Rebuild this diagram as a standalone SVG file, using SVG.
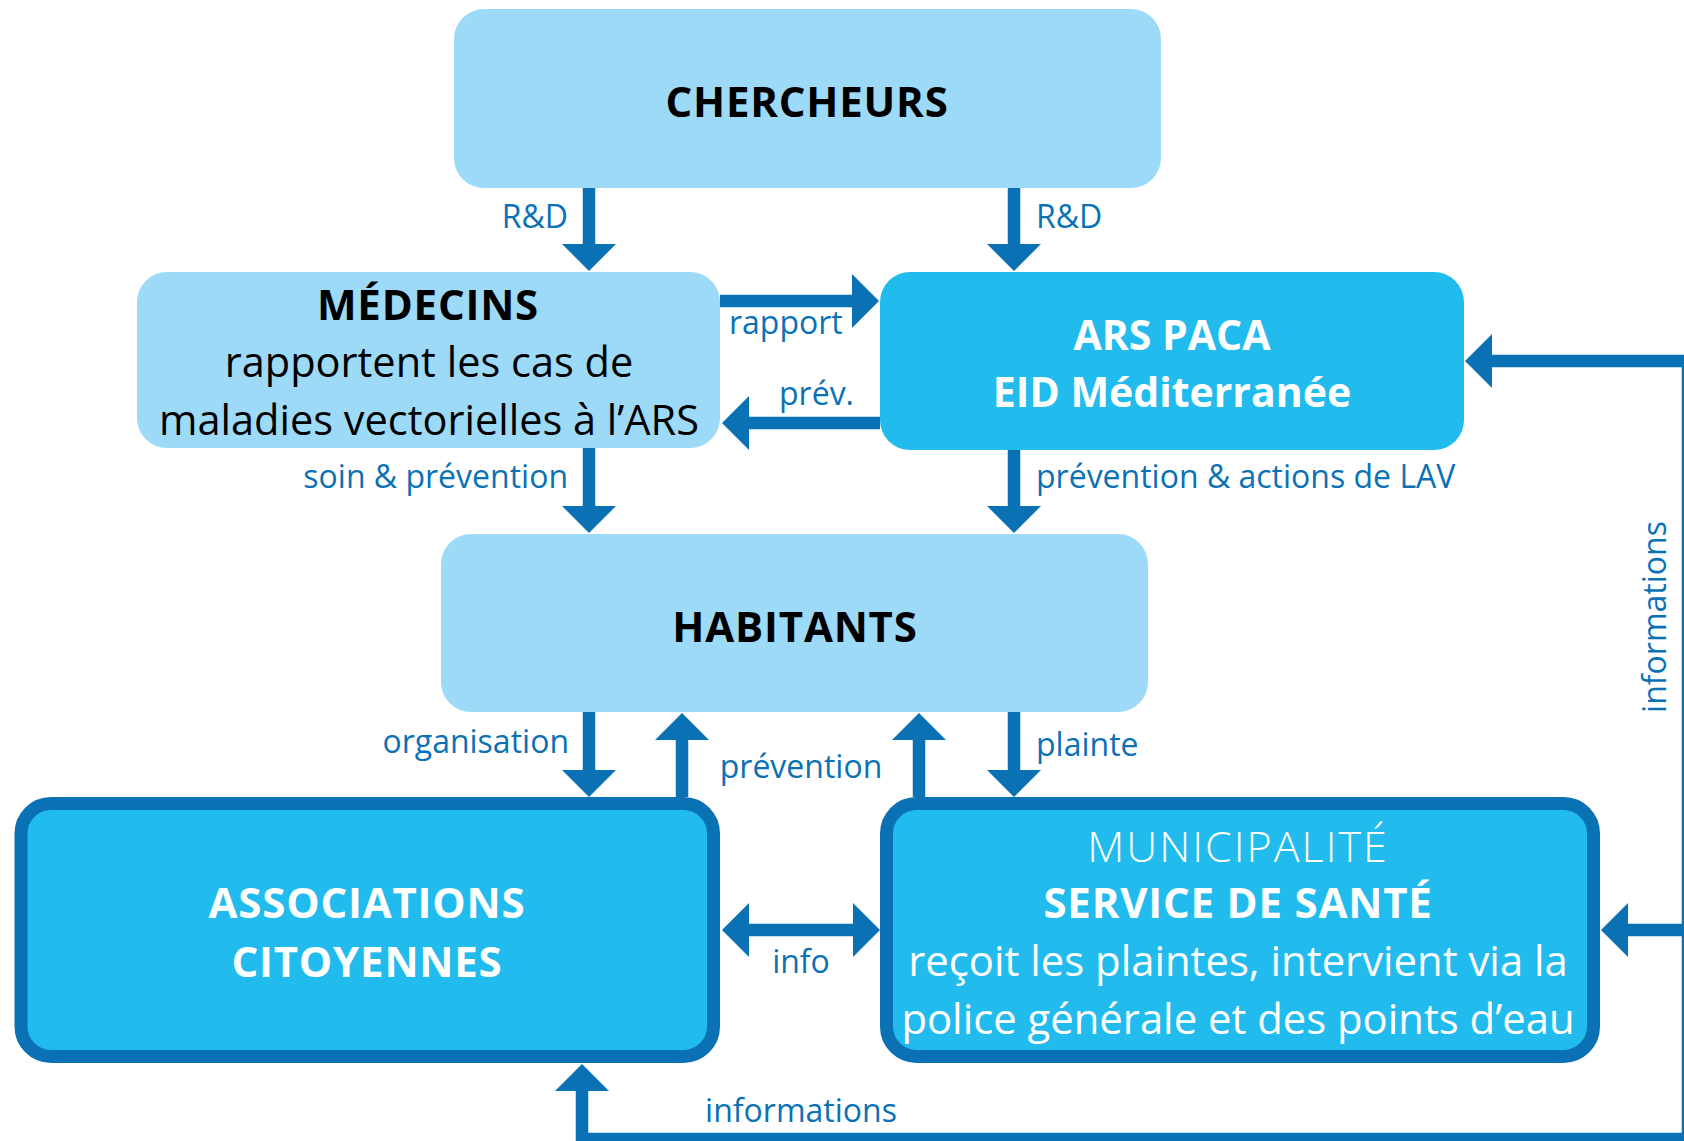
<svg xmlns="http://www.w3.org/2000/svg" width="1684" height="1141" viewBox="0 0 1684 1141">
<style>
.light{fill:#9DDAF7}
.mid{fill:#22BBEE}
.framed{fill:#22BBEE;stroke:#0B71B5;stroke-width:13}
.h{font-family:"Open Sans","Liberation Sans",sans-serif;font-weight:700;font-size:42px;letter-spacing:0.8px;text-anchor:middle}
.b{font-family:"Open Sans","Liberation Sans",sans-serif;font-size:41.5px;text-anchor:middle}
.dark{fill:#000}
.white{fill:#fff}
.lbl{font-family:"Open Sans","Liberation Sans",sans-serif;font-size:32px;fill:#0B71B5}
.c{fill:none;stroke:#0B71B5;stroke-width:12.5;stroke-linejoin:miter}
</style>
<defs>
<marker id="ah" markerUnits="userSpaceOnUse" viewBox="0 0 27 54" markerWidth="27" markerHeight="54" refX="1" refY="27" orient="auto-start-reverse">
<path d="M0,0 L27,27 L0,54 Z" fill="#0B71B5"/>
</marker>
</defs>
<rect width="1684" height="1141" fill="#fff"/>

<g id="connectors">
<line class="c" x1="589" y1="188" x2="589" y2="245" marker-end="url(#ah)"/>
<line class="c" x1="1014" y1="188" x2="1014" y2="245" marker-end="url(#ah)"/>
<line class="c" x1="720" y1="301" x2="853" y2="301" marker-end="url(#ah)"/>
<line class="c" x1="880" y1="423" x2="748" y2="423" marker-end="url(#ah)"/>
<line class="c" x1="589" y1="448" x2="589" y2="507" marker-end="url(#ah)"/>
<line class="c" x1="1014" y1="450" x2="1014" y2="507" marker-end="url(#ah)"/>
<line class="c" x1="589" y1="712" x2="589" y2="771" marker-end="url(#ah)"/>
<line class="c" x1="682" y1="797" x2="682" y2="739" marker-end="url(#ah)"/>
<line class="c" x1="919" y1="797" x2="919" y2="739" marker-end="url(#ah)"/>
<line class="c" x1="1014" y1="712" x2="1014" y2="771" marker-end="url(#ah)"/>
<line class="c" x1="748" y1="930" x2="854" y2="930" marker-start="url(#ah)" marker-end="url(#ah)"/>
<path class="c" d="M582,1090 L582,1139 L1688,1139 L1688,361 L1491,361" marker-start="url(#ah)" marker-end="url(#ah)"/>
<line class="c" x1="1688" y1="930" x2="1627" y2="930" marker-end="url(#ah)"/>
<text class="lbl" x="568" y="228" text-anchor="end">R&amp;D</text>
<text class="lbl" x="1036" y="228">R&amp;D</text>
<text class="lbl" x="729" y="334">rapport</text>
<text class="lbl" x="779" y="405">prév.</text>
<text class="lbl" x="568" y="488" text-anchor="end">soin &amp; prévention</text>
<text class="lbl" x="1036" y="488">prévention &amp; actions de LAV</text>
<text class="lbl" x="569" y="753" text-anchor="end">organisation</text>
<text class="lbl" x="801" y="778" text-anchor="middle">prévention</text>
<text class="lbl" x="1036" y="756">plainte</text>
<text class="lbl" x="801" y="973" text-anchor="middle">info</text>
<text class="lbl" x="801" y="1122" text-anchor="middle">informations</text>
<text class="lbl" text-anchor="middle" transform="translate(1666,617) rotate(-90)">informations</text>
</g>

<g id="chercheurs">
<rect class="light" x="454" y="9" width="707" height="179" rx="30"/>
<text class="h dark" x="807" y="117">CHERCHEURS</text>
</g>

<g id="medecins">
<rect class="light" x="137" y="272" width="583" height="176" rx="30"/>
<text class="h dark" x="428" y="320">MÉDECINS</text>
<text class="b dark" x="429" y="377">rapportent les cas de</text>
<text class="b dark" x="429" y="435">maladies vectorielles à l’ARS</text>
</g>

<g id="ars">
<rect class="mid" x="880" y="272" width="584" height="178" rx="30"/>
<text class="h white" x="1172" y="350" style="font-size:41px;letter-spacing:0">ARS PACA</text>
<text class="h white" x="1172" y="407" style="font-size:41px;letter-spacing:0">EID Méditerranée</text>
</g>

<g id="habitants">
<rect class="light" x="441" y="534" width="707" height="178" rx="30"/>
<text class="h dark" x="795" y="642">HABITANTS</text>
</g>

<g id="associations">
<rect class="framed" x="21" y="803.5" width="692.5" height="253" rx="30"/>
<text class="h white" x="367" y="918">ASSOCIATIONS</text>
<text class="h white" x="367" y="977">CITOYENNES</text>
</g>

<g id="municipalite">
<rect class="framed" x="886.5" y="803.5" width="707" height="253" rx="30"/>
<text class="b white" x="1238" y="862" style="font-weight:300;font-size:43px;letter-spacing:2px">MUNICIPALITÉ</text>
<text class="h white" x="1238" y="918">SERVICE DE SANTÉ</text>
<text class="b white" x="1238" y="976" style="font-size:41.8px">reçoit les plaintes, intervient via la</text>
<text class="b white" x="1238" y="1034" style="font-size:41.8px">police générale et des points d’eau</text>
</g>
</svg>
